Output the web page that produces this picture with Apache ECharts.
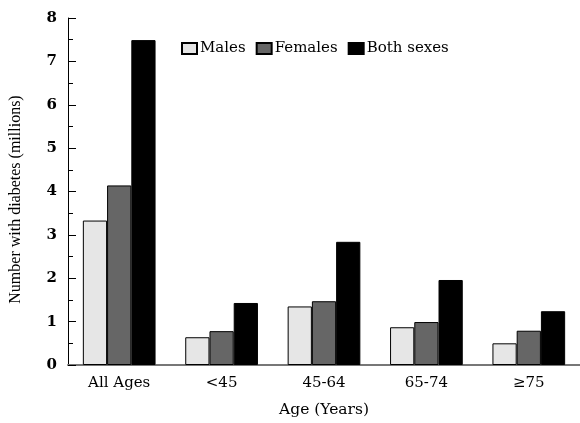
<!DOCTYPE html>
<html><head><meta charset="utf-8">
<script src="https://cdn.jsdelivr.net/npm/echarts@6/dist/echarts.min.js"></script>
<style>html,body{margin:0;padding:0;background:#fff}#c{width:580px;height:423px}</style>
</head><body><div id="c"></div>
<script>
const categories = ['All Ages', '<45', '45-64', '65-74', '\u226575'];
const males = [3.33, 0.64, 1.35, 0.87, 0.50];
const females = [4.14, 0.78, 1.47, 0.99, 0.79];
const both = [7.49, 1.43, 2.84, 1.96, 1.24];
const seriesNames = ['Males', 'Females', 'Both sexes'];
const FONT = '"DejaVu Serif", "Liberation Serif", serif';
const FONT2 = '"Liberation Serif", serif';
const chart = echarts.init(document.getElementById('c'), null, {renderer: 'canvas'});
function bar(name, data, color) {
  return {
    name, type: 'bar', data,
    barGap: '0%', barCategoryGap: '29%',
    itemStyle: {color, borderColor: '#000', borderWidth: 1},
    emphasis: {disabled: true}
  };
}
chart.setOption({
  animation: false,
  textStyle: {fontFamily: FONT, color: '#000'},
  grid: {left: 68, right: 0, top: 18, bottom: 56},
  legend: {
    left: 176, top: 36, itemWidth: 15, itemHeight: 11, itemGap: 10, icon: 'rect',
    textStyle: {fontFamily: FONT, fontSize: 15, color: '#000', padding: [0,0,0,-2]},
    data: seriesNames
  },
  xAxis: {
    type: 'category', data: categories,
    axisLine: {lineStyle: {color: '#777', width: 2}},
    axisTick: {show: false},
    axisLabel: {fontFamily: FONT, fontSize: 15, color: '#000', margin: 11},
    name: 'Age (Years)', nameLocation: 'middle', nameGap: 37,
    nameTextStyle: {fontFamily: FONT, fontSize: 15.5, color: '#000'}
  },
  yAxis: {
    type: 'value', min: 0, max: 8, interval: 1,
    axisLine: {show: true, lineStyle: {color: '#000', width: 1}},
    axisTick: {show: true, inside: true, length: 8, lineStyle: {color: '#000'}},
    minorTick: {show: true, splitNumber: 2, length: 5, lineStyle: {color: '#000'}},
    splitLine: {show: false},
    axisLabel: {fontFamily: FONT, fontSize: 15, fontWeight: 'bold', color: '#000', margin: 11},
    name: 'Number with diabetes (millions)', nameLocation: 'middle', nameGap: 44,
    nameTextStyle: {fontFamily: FONT2, fontSize: 16, color: '#000', padding: [0, 16, 0, 0]}
  },
  series: [
    bar('Males', males, '#e6e6e6'),
    bar('Females', females, '#666666'),
    bar('Both sexes', both, '#000000')
  ]
});
</script></body></html>
